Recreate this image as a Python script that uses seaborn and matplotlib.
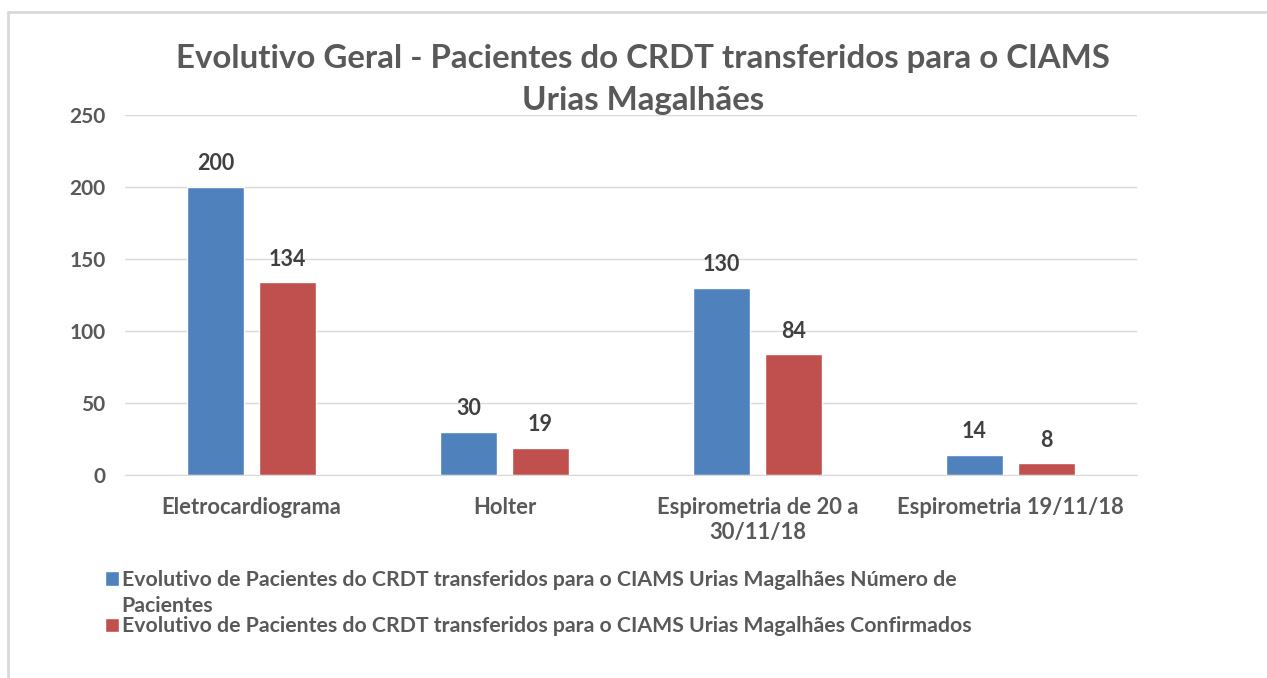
import pandas as pd
import seaborn as sns
import matplotlib.pyplot as plt
from matplotlib.lines import Line2D
from matplotlib.patches import Rectangle
from matplotlib.legend_handler import HandlerPatch

# Data
categories = ["Eletrocardiograma", "Holter", "Espirometria de 20 a\n30/11/18", "Espirometria 19/11/18"]
numero_pacientes = [200, 30, 130, 14]
confirmados = [134, 19, 84, 8]
series_names = [
    "Evolutivo de Pacientes do CRDT transferidos para o CIAMS Urias Magalhães Número de\nPacientes",
    "Evolutivo de Pacientes do CRDT transferidos para o CIAMS Urias Magalhães Confirmados",
]
y_ticks = [0, 50, 100, 150, 200, 250]

df = pd.DataFrame({
    "Categoria": categories * 2,
    "Valor": numero_pacientes + confirmados,
    "Serie": [series_names[0]] * 4 + [series_names[1]] * 4,
})

sns.set_style("white")
plt.rcParams["font.family"] = ["Lato", "DejaVu Sans"]

text_gray = "#595959"
colors = ["#4F81BD", "#C0504D"]

fig = plt.figure(figsize=(12.67, 6.78), dpi=100)
ax = fig.add_axes([125 / 1267, 1 - 475 / 678, 1012 / 1267, 360 / 678])

sns.barplot(data=df, x="Categoria", y="Valor", hue="Serie", palette=colors,
            width=0.57, gap=0.21, ax=ax, legend=True, saturation=1)

for c in ax.containers:
    ax.bar_label(c, padding=9, fontsize=15.5, fontweight="bold", color="#404040")

ax.set_ylim(0, 250)
ax.set_yticks(y_ticks)
ax.set_xlim(-0.5, 3.5)
ax.grid(axis="y", color="#D9D9D9", linewidth=1)
ax.set_axisbelow(True)
for s in ["top", "right", "left"]:
    ax.spines[s].set_visible(False)
ax.spines["bottom"].set_color("#D9D9D9")
ax.tick_params(axis="both", length=0, labelsize=15, labelcolor=text_gray)
ax.tick_params(axis="x", labelsize=15.8)
ax.tick_params(axis="y", pad=14)
ax.tick_params(axis="x", pad=16)
for t in ax.get_xticklabels() + ax.get_yticklabels():
    t.set_fontweight("bold")
ax.set_xlabel("")
ax.set_ylabel("")

fig.text(643 / 1267, 1 - 79.5 / 678, "Evolutivo Geral - Pacientes do CRDT transferidos para o CIAMS\nUrias Magalhães",
         ha="center", va="center", fontsize=23.8, fontweight="bold", color=text_gray, linespacing=1.52)


# first legend entry wraps, so its square sits on the first line
def top_square(legend, orig_handle, xdescent, ydescent, width, height, fontsize):
    return Rectangle((-xdescent, -ydescent + fontsize * 0.72), width, height)


handles, labels = ax.get_legend_handles_labels()
ax.get_legend().remove()
leg = fig.legend(handles, labels, loc="upper left", bbox_to_anchor=(86 / 1267, 1 - 551 / 678),
                 frameon=False, fontsize=15.3, handlelength=0.66, handleheight=0.66,
                 handletextpad=0.12, labelspacing=0.0,
                 handler_map={handles[0]: HandlerPatch(patch_func=top_square)})
for t in leg.get_texts():
    t.set_color(text_gray)
    t.set_fontweight("bold")
    t.set_linespacing(1.38)

# outer chart frame (top and left edges visible in the reference)
fig.add_artist(Line2D([8 / 1267, 8 / 1267], [0, 1 - 12 / 678], transform=fig.transFigure, color="#D9D9D9", linewidth=2))
fig.add_artist(Line2D([8 / 1267, 1], [1 - 12 / 678, 1 - 12 / 678], transform=fig.transFigure, color="#D9D9D9", linewidth=2))

fig.savefig("out.png", dpi=100, facecolor="white")
